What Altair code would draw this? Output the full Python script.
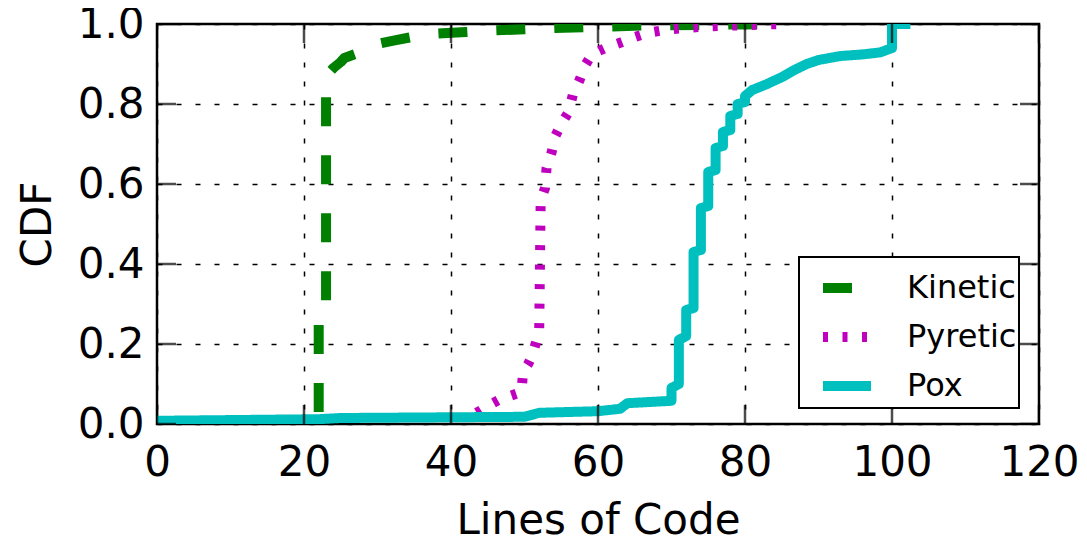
import altair as alt
import pandas as pd

kinetic_x = [22, 22, 23, 23, 24, 25, 25.5, 27, 28, 30, 32, 34, 36, 38, 42, 46, 50, 54, 58, 62, 66, 70, 75, 80, 85]
kinetic_y = [0.03, 0.27, 0.28, 0.87, 0.89, 0.905, 0.915, 0.925, 0.935, 0.95, 0.958, 0.965, 0.972, 0.976,
             0.98, 0.984, 0.987, 0.99, 0.992, 0.994, 0.996, 0.997, 0.998, 0.999, 1.0]

pyretic_x = [43.5, 45, 46.5, 48, 49.6, 49.8, 50.5, 51, 51.5, 52, 52.2, 52.8, 53, 53.7, 54.2, 55, 56, 56.6,
             57.5, 58.2, 59.2, 61, 63, 64.8, 66.8, 69.4, 72, 75, 80, 85]
pyretic_y = [0.028, 0.045, 0.06, 0.07, 0.08, 0.13, 0.15, 0.17, 0.2, 0.23, 0.56, 0.59, 0.64, 0.68, 0.72, 0.75,
             0.78, 0.825, 0.86, 0.895, 0.925, 0.94, 0.953, 0.966, 0.978, 0.986, 0.99, 0.994, 0.997, 1.0]

pox_x = [0, 22, 25, 50, 52, 60, 63, 64, 70, 70, 71, 71, 72, 72, 73, 73, 74, 74, 75, 75, 76, 76, 77, 77,
         78, 78, 79, 79, 80, 80, 81, 83, 85, 86.6, 88.4, 90, 93, 96, 98.4, 100, 100, 102.5]
pox_y = [0.008, 0.012, 0.015, 0.018, 0.028, 0.032, 0.038, 0.052, 0.058, 0.09, 0.1, 0.21, 0.22, 0.285, 0.29,
         0.43, 0.435, 0.54, 0.545, 0.63, 0.635, 0.69, 0.695, 0.73, 0.735, 0.77, 0.775, 0.80, 0.805, 0.82,
         0.835, 0.85, 0.867, 0.884, 0.9, 0.91, 0.92, 0.924, 0.929, 0.94, 1.0, 1.0]

series_names = ["Kinetic", "Pyretic", "Pox"]
series_colors = ["#008000", "#BF00BF", "#00BFBF"]
series_dashes = [[29, 29], [5, 14.5], [1, 0]]

x_ticks = [0, 20, 40, 60, 80, 100, 120]
y_ticks = [0.0, 0.2, 0.4, 0.6, 0.8, 1.0]

rows = []
for name, xs, ys in zip(series_names, [kinetic_x, pyretic_x, pox_x], [kinetic_y, pyretic_y, pox_y]):
    for i, (xv, yv) in enumerate(zip(xs, ys)):
        rows.append({"series": name, "x": xv, "y": yv, "i": i})
df = pd.DataFrame(rows)

FONT = "DejaVu Sans"

xscale = alt.Scale(domain=[0, 120], nice=False, zero=False)
yscale = alt.Scale(domain=[0, 1], nice=False, zero=False)

legend_props = dict(title=None, orient="none", legendX=642, legendY=233,
                    symbolType="stroke", symbolSize=2304, symbolStrokeWidth=10,
                    symbolOffset=17,
                    labelFont=FONT, labelFontSize=32, labelColor="black",
                    labelOffset=31, padding=2, rowPadding=0,
                    strokeColor="black", fillColor="white", cornerRadius=0)

lines = alt.Chart(df).mark_line(clip=True, strokeWidth=10, strokeCap="butt", strokeJoin="round").encode(
    x=alt.X("x:Q", scale=xscale, title="Lines of Code",
            axis=alt.Axis(values=x_ticks, format="d", ticks=False, domain=False, grid=True,
                          gridColor="black", gridDash=[5, 14], gridWidth=1.5, gridOpacity=1,
                          labelFont=FONT, labelFontSize=42, labelColor="black", labelPadding=18,
                          labelFlush=False, labelOverlap=False,
                          titleFont=FONT, titleFontSize=42, titleFontWeight="normal", titleColor="black",
                          titleBaseline="alphabetic", titleY=109, titleX=441, titleAlign="center")),
    y=alt.Y("y:Q", scale=yscale, title="CDF",
            axis=alt.Axis(values=y_ticks, format=".1f", ticks=False, domain=False, grid=True,
                          gridColor="black", gridDash=[5, 14], gridWidth=1.5, gridOpacity=1,
                          labelFont=FONT, labelFontSize=42, labelColor="black", labelPadding=13,
                          labelFlush=False, labelOverlap=False,
                          titleFont=FONT, titleFontSize=42, titleFontWeight="normal", titleColor="black",
                          titleAngle=270, titleBaseline="alphabetic", titleAlign="center",
                          titleX=-107, titleY=200)),
    color=alt.Color("series:N", scale=alt.Scale(domain=series_names, range=series_colors),
                    legend=alt.Legend(**legend_props)),
    strokeDash=alt.StrokeDash("series:N", scale=alt.Scale(domain=series_names, range=series_dashes),
                              legend=alt.Legend(**legend_props)),
    order=alt.Order("i:Q"),
    detail="series:N",
)

xt = pd.DataFrame({"v": x_ticks})
yt = pd.DataFrame({"v": y_ticks})

tick_style = dict(size=38, thickness=2.5, color="black", clip=True)
xticks_bottom = alt.Chart(xt).mark_tick(orient="vertical", **tick_style).encode(
    x=alt.X("v:Q", scale=xscale), y=alt.datum(0, scale=yscale))
xticks_top = alt.Chart(xt).mark_tick(orient="vertical", **tick_style).encode(
    x=alt.X("v:Q", scale=xscale), y=alt.datum(1))
yticks_left = alt.Chart(yt).mark_tick(orient="horizontal", **tick_style).encode(
    y=alt.Y("v:Q", scale=yscale), x=alt.datum(0))
yticks_right = alt.Chart(yt).mark_tick(orient="horizontal", **tick_style).encode(
    y=alt.Y("v:Q", scale=yscale), x=alt.datum(120))

chart = alt.layer(lines, xticks_bottom, xticks_top, yticks_left, yticks_right).properties(
    width=882, height=400,
    padding={"left": 149, "top": 16, "right": 40, "bottom": 114},
    autosize=alt.AutoSizeParams(type="none"),
).configure_view(stroke="black", strokeWidth=2.5).configure_legend(strokeWidth=2)

chart.save("out.html", embed_options={"renderer": "svg", "actions": False})
